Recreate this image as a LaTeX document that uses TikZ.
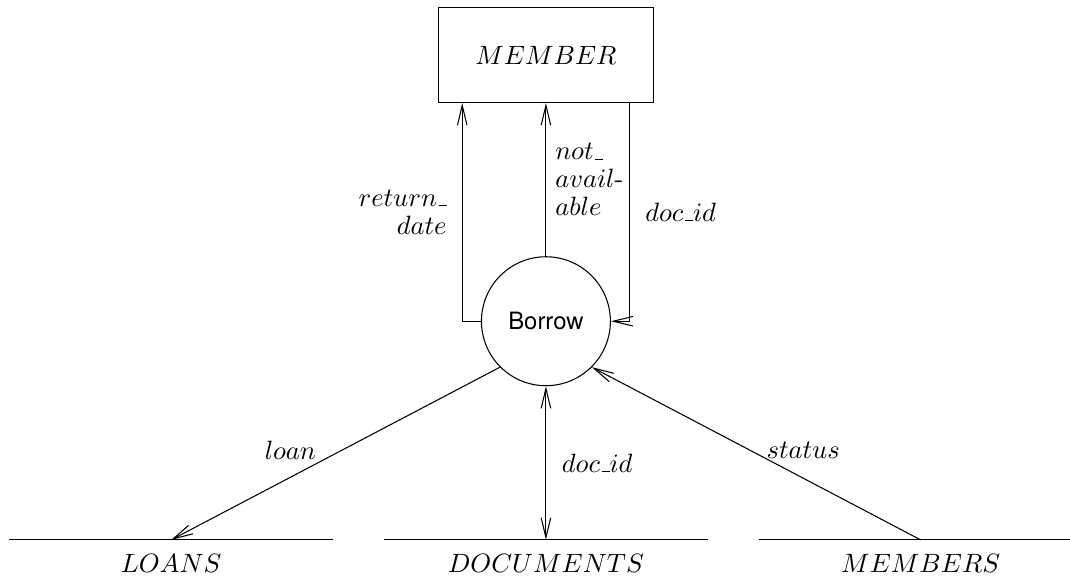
\documentclass[tikz,border=0pt]{standalone}
\usepackage{amsmath}
\usepackage{fontspec}
\usepackage{tikz}
\usetikzlibrary{arrows.meta}
\newfontfamily\procfont{TeX Gyre Heros}
% sublinhado curto, como nos nomes de dados
\newcommand{\sublinha}{\kern.06em\vbox{\hrule height.5pt width.3em}}

\begin{document}
\begin{tikzpicture}[>={Straight Barb[length=7.5pt,width=3.6pt]},
    processo/.style={circle, draw, minimum size=1.71cm, inner sep=0pt, font=\procfont\small},
    entidade/.style={rectangle, draw, minimum width=2.86cm, minimum height=1.26cm}]
    \useasboundingbox (-7.24,-3.5) rectangle (6.95,4.26);
    % Processo e entidade externa
    \node[processo] (borrow) at (0,0) {Borrow};
    \node[entidade] (member) at (0,3.53) {$MEMBER$};
    % Depositos de dados
    \foreach \nome/\x/\texto in {loans/-4.97/LOANS, docs/0/DOCUMENTS, members/4.97/MEMBERS} {
        \coordinate (\nome) at (\x,-2.9);
        \draw ([xshift=-2.15cm]\nome) -- ([xshift=2.15cm]\nome);
        \node[below=2pt] (\nome-texto) at (\nome) {$\texto$};
    }
    % Fluxos para a entidade
    \draw[->] (borrow.west) -| ([xshift=-1.11cm]member.south)
        node[pos=0.75, left=2.4pt, align=right] {$return\sublinha$\\[-1.5pt]$date$};
    \draw[->] (borrow.north) -- (member.south)
        node[midway, right=0pt, align=left] {$not\sublinha$\\[-1.5pt]$avail$-\\[-1.5pt]$able$};
    \draw[->] ([xshift=1.11cm]member.south) |- (borrow.east)
        node[pos=0.25, right=2.4pt] {$doc\sublinha id$};
    % Fluxos dos depositos
    \draw[->] (borrow.south west) -- (loans)
        node[pos=0.55, above left, inner sep=1pt] {$loan$};
    \draw[<->] (borrow.south) -- (docs)
        node[midway, right=2.5pt] {$doc\sublinha id$};
    \draw[->] (members) -- (borrow.south east)
        node[pos=0.47, anchor=south west, inner sep=0pt] {$status$};
\end{tikzpicture}
\end{document}
